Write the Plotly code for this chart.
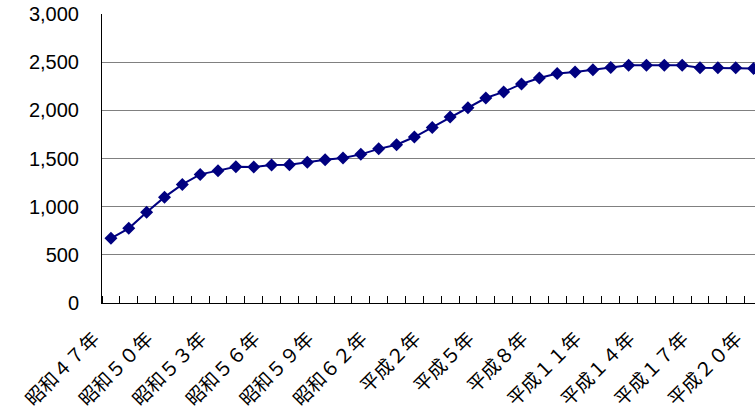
import plotly.graph_objects as go

# Years 昭和47年 (1972) through 平成20年 (2008)
years = (
    ["昭和４７年", "昭和４８年", "昭和４９年", "昭和５０年", "昭和５１年", "昭和５２年",
     "昭和５３年", "昭和５４年", "昭和５５年", "昭和５６年", "昭和５７年", "昭和５８年",
     "昭和５９年", "昭和６０年", "昭和６１年", "昭和６２年", "昭和６３年", "平成元年",
     "平成２年", "平成３年", "平成４年", "平成５年", "平成６年", "平成７年",
     "平成８年", "平成９年", "平成１０年", "平成１１年", "平成１２年", "平成１３年",
     "平成１４年", "平成１５年", "平成１６年", "平成１７年", "平成１８年", "平成１９年",
     "平成２０年"]
)

values = [
    671, 775, 942, 1099, 1231, 1335, 1374, 1415, 1412, 1432,
    1435, 1462, 1487, 1505, 1543, 1600, 1643, 1723, 1823, 1930,
    2028, 2128, 2191, 2274, 2336, 2382, 2399, 2420, 2445, 2469,
    2469, 2469, 2469, 2441, 2441, 2441, 2434,
]

# every third year carries a label
label_idx = list(range(0, len(years), 3))
label_text = [years[i] for i in label_idx]

y_ticks = [0, 500, 1000, 1500, 2000, 2500, 3000]

x_pos = list(range(len(years)))

fig = go.Figure(
    go.Scatter(
        x=x_pos,
        y=values,
        mode="lines+markers",
        line=dict(color="#000080", width=2),
        marker=dict(symbol="diamond", size=10, color="#000080"),
        hovertext=years,
        cliponaxis=False,
    )
)

fig.update_layout(
    width=755,
    height=414,
    margin=dict(l=102, r=0, t=14, b=111),
    plot_bgcolor="white",
    paper_bgcolor="white",
    showlegend=False,
    font=dict(family="Liberation Sans, Arial, sans-serif", color="black"),
)

fig.update_xaxes(
    range=[-0.5, 36.08],
    automargin=False,
    tickvals=label_idx,
    ticktext=label_text,
    tickangle=-45,
    ticks="",
    showgrid=False,
    zeroline=False,
    showline=True,
    linecolor="black",
    linewidth=1,
    ticklabeloverflow="allow",
    ticklabelstandoff=16,
    ticklabelshift=-17,
    tickfont=dict(family="Noto Sans CJK JP", size=19, color="black"),
    minor=dict(ticks="inside", ticklen=7, tickcolor="black", tick0=0.5, dtick=1,
               showgrid=False),
)

fig.update_yaxes(
    range=[0, 3000],
    automargin=False,
    tickvals=y_ticks,
    tickformat=",",
    showgrid=True,
    gridcolor="#808080",
    gridwidth=1,
    zeroline=False,
    showline=True,
    linecolor="black",
    linewidth=1,
    ticks="",
    ticklabelstandoff=18,
    tickfont=dict(family="Liberation Sans, Arial, sans-serif", size=20, color="black"),
)

fig.write_html("out.html")
